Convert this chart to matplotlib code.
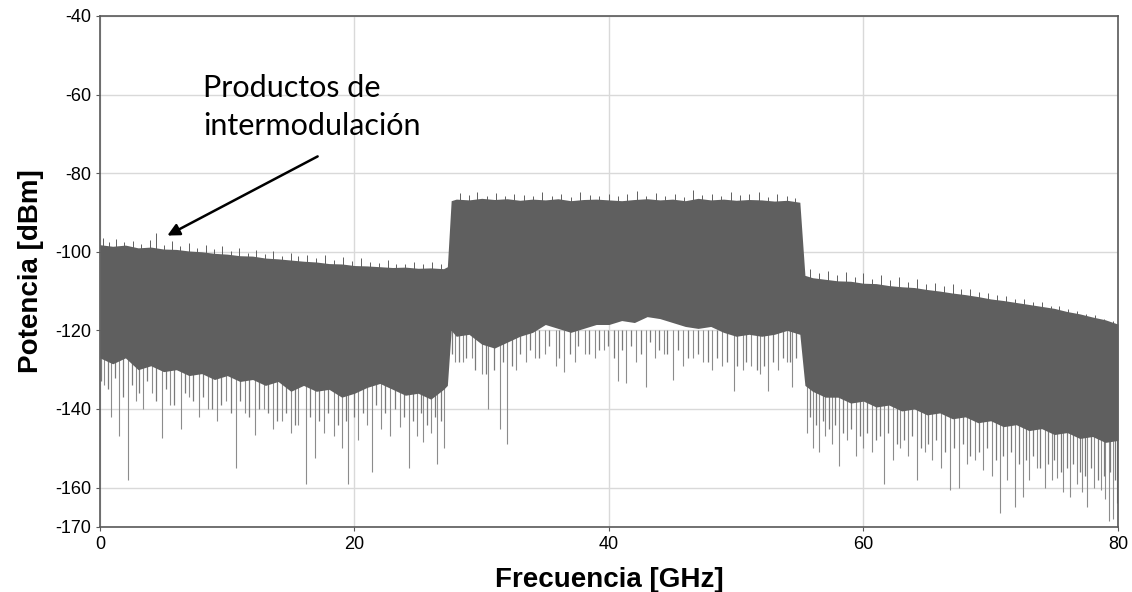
import numpy as np
import matplotlib.pyplot as plt

plt.rcParams['axes.unicode_minus'] = False

# envelope of the spectrum (GHz, dBm)
freq = [0, 1, 2, 3, 4, 5, 6, 7, 8, 9, 10, 11, 12, 13, 14, 15, 16, 17, 18, 19, 20,
        21, 22, 23, 24, 25, 26, 27, 27.3,
        27.6, 28, 29, 30, 31, 32, 33, 34, 35, 36, 37, 38, 39, 40, 41, 42, 43, 44,
        45, 46, 47, 48, 49, 50, 51, 52, 53, 54, 55,
        55.4, 56, 57, 58, 59, 60, 61, 62, 63, 64, 65, 66, 67, 68, 69, 70, 71, 72,
        73, 74, 75, 76, 77, 78, 79, 80]
top = [-98.2, -98.6, -98.3, -99, -98.8, -99.3, -99.4, -99.8, -100, -100.4, -100.6,
       -101, -101.1, -101.6, -101.8, -102.1, -102.4, -102.6, -103, -103.1, -103.5,
       -103.6, -103.8, -104, -103.9, -104.2, -104.1, -104.3, -103.8,
       -87, -86.6, -86.8, -86.4, -86.7, -86.5, -86.9, -86.6, -86.8, -86.5, -87,
       -86.7, -86.6, -86.8, -87, -86.7, -86.5, -86.8, -86.6, -87, -86.4, -86.8,
       -86.6, -86.9, -86.7, -86.8, -87.1, -86.9, -87.4,
       -106, -106.6, -107, -107.4, -107.5, -108, -108.1, -108.6, -108.9, -109.1,
       -109.6, -110, -110.5, -110.9, -111.4, -112, -112.4, -112.9, -113.4, -113.9,
       -114.4, -115.2, -115.8, -116.6, -117.3, -118.4]
bottom = [-127, -128.5, -127, -130, -129, -130.5, -130, -131.5, -131, -132.5, -131.5,
          -133, -132.5, -134, -133, -135.5, -134, -135.5, -135, -137, -136, -134.5,
          -133.5, -135, -136.5, -136, -137.5, -135, -134,
          -120, -121.5, -121, -123.5, -124.5, -123, -121.5, -120.5, -118.5, -119.5,
          -120.5, -119.5, -118.5, -118.5, -117.5, -118, -116.5, -117, -118, -119,
          -119.5, -119, -120.5, -121.5, -121, -121.5, -121, -120, -121,
          -134, -135.5, -137, -137, -138.5, -138, -139.5, -139, -140.5, -140, -141.5,
          -141, -142.5, -142, -143.5, -143, -144.5, -144, -145.5, -145, -146.5, -146,
          -147.5, -147, -148.5, -148]

# fine hairs sticking out of the top edge
hair_f = [0.2, 0.7, 1.3, 1.9, 2.6, 3.2, 3.9, 4.4, 5.0, 5.7, 6.3, 7.0, 7.6, 8.3, 9.0,
          9.6, 10.3, 10.9, 11.6, 12.3, 13.0, 13.6, 14.3, 15.0, 15.6, 16.3, 17.0,
          17.7, 18.4, 19.1, 19.8, 20.5, 21.2, 21.9, 22.6, 23.3, 24.0, 24.7, 25.4,
          26.1, 26.8,
          28.3, 29.0, 29.6, 30.4, 31.1, 31.8, 32.5, 33.3, 34.0, 34.7, 35.5, 36.2,
          37.0, 37.7, 38.5, 39.2, 40.0, 40.7, 41.4, 42.2, 42.9, 43.7, 44.4, 45.2,
          45.9, 46.6, 47.3, 48.1, 48.8, 49.6, 50.3, 51.0, 51.8, 52.5, 53.2, 54.0,
          54.6,
          55.8, 56.5, 57.2, 57.9, 58.6, 59.3, 60.0, 60.7, 61.4, 62.1, 62.8, 63.5,
          64.2, 64.9, 65.6, 66.3, 67.0, 67.7, 68.4, 69.1, 69.8, 70.5, 71.2, 71.9,
          72.6, 73.3, 74.0, 74.7, 75.4, 76.1, 76.8, 77.5, 78.2, 78.9, 79.6]
hair_v = [-96.5, -97.4, -96.8, -97.6, -97.2, -98, -97, -95.2, -98.2, -97.2, -98.6,
          -97.8, -99, -98.2, -99.4, -98.5, -99.8, -99, -100.3, -99.6, -100.6, -99.8,
          -101, -100.3, -101.2, -100.7, -101.7, -100.8, -102, -101.4, -102.4,
          -101.6, -102.5, -102.8, -102.1, -103, -103.1, -102.5, -103.2, -102.7, -103,
          -85, -85.6, -84.8, -85.8, -85, -85.9, -85.2, -85.6, -85.9, -84.7, -85.7,
          -85.2, -86, -84.9, -85.6, -85.9, -85.2, -85.8, -85.4, -84.6, -85.8, -85.1,
          -85.7, -85.3, -86, -84.2, -85.6, -85.2, -85.9, -84.8, -85.6, -85.3,
          -84.9, -86, -85.3, -85.8, -86.2,
          -104.5, -105.4, -104.8, -106, -105.2, -106.4, -105.5, -106.8, -106, -107.2,
          -106.5, -107.6, -107, -108.2, -108, -108.8, -108.2, -109.4, -109.5, -110.2,
          -110.5, -110.9, -111.2, -111.9, -112, -112.9, -112.8, -113.9, -113.8,
          -114.6, -115, -115.8, -116.2, -117.1, -117.5]

# short grass below the dense part
grass_f = [0.1, 0.6, 1.2, 1.8, 2.5, 3.1, 3.7, 4.4, 5.2, 5.8, 6.7, 7.3, 8.1, 8.8,
           9.5, 10.3, 11.0, 11.7, 12.5, 13.2, 13.9, 14.6, 15.3, 16.5, 17.2, 17.9,
           18.7, 19.3, 20.0, 20.7, 21.7, 22.4, 23.2, 23.9, 24.6, 25.2, 25.7, 26.3,
           26.8,
           27.7, 28.2, 28.8, 29.5, 30.3, 31.0, 31.7, 32.4, 33.0, 33.8, 34.5, 35.3,
           36.1, 36.9, 37.6, 38.4, 39.2, 39.9, 40.4, 41.0, 41.7, 42.5, 43.2, 43.9,
           44.6, 45.4, 46.2, 47.0, 47.8, 48.5, 49.3, 50.1, 50.8, 51.6, 52.2, 52.9,
           53.7, 54.2, 54.7,
           55.8, 56.3, 56.8, 57.3, 57.8, 58.4, 59.0, 59.7, 60.3, 61.0, 61.3, 61.9,
           62.6, 63.2, 63.8, 64.5, 65.1, 65.7, 66.4, 67.1, 67.8, 68.4, 69.1, 69.7,
           70.4, 71.0, 71.6, 72.2, 72.8, 73.3, 73.9, 74.5, 75.0, 75.5, 76.0, 76.5,
           77.0, 77.4, 77.9, 78.4, 78.9, 79.4, 79.8]
grass_v = [-133, -135, -132, -137, -134, -136, -133, -138, -135, -139, -136, -138,
           -137, -140, -139, -141, -138, -142, -140, -141, -143, -141, -144, -142,
           -143, -141, -144, -143, -142, -141, -139, -141, -140, -142, -143, -141,
           -144, -142, -143,
           -126, -128, -127, -130, -131, -130, -128, -129, -126, -125, -127, -124,
           -127, -126, -124, -126, -125, -124, -127, -125, -124, -126, -123, -125,
           -126, -125, -127, -126, -128, -127, -128, -129, -128, -130, -129, -128,
           -127, -128, -127,
           -142, -144, -143, -145, -144, -146, -145, -147, -146, -148, -147, -146,
           -149, -148, -147, -150, -149, -148, -151, -150, -149, -152, -151, -150,
           -153, -152, -151, -154, -153, -152, -155, -154, -153, -156, -155, -154,
           -156, -157, -155, -158, -157, -156, -158]

# deep dips below the dense part
dip_f = [0.3, 0.9, 1.5, 2.2, 2.8, 3.4, 4.1, 4.9, 5.5, 6.4, 7.0, 7.8, 8.5, 9.2, 9.9,
         10.7, 11.4, 12.2, 12.9, 13.6, 14.3, 15.0, 15.6, 16.2, 16.9, 17.6, 18.4,
         19.0, 19.5, 20.3, 21.0, 21.4, 22.1, 22.8, 23.6, 24.3, 24.9, 25.4, 26.0,
         26.5, 27.0,
         27.9, 28.5, 29.2, 30.0, 30.5, 31.4, 32.0, 32.7, 33.5, 34.2, 35.0, 35.8,
         36.5, 37.3, 38.1, 38.9, 39.6, 40.7, 41.3, 42.1, 42.9, 43.6, 44.3, 45.0,
         45.8, 46.6, 47.4, 48.1, 48.9, 49.8, 50.5, 51.2, 51.9, 52.5, 53.3, 54.0,
         54.4,
         55.6, 56.0, 56.5, 57.0, 57.5, 58.1, 58.7, 59.4, 60.0, 60.7, 61.6, 62.3,
         62.9, 63.5, 64.2, 64.8, 65.4, 66.1, 66.8, 67.5, 68.1, 68.8, 69.4, 70.1,
         70.7, 71.3, 71.9, 72.5, 73.0, 73.6, 74.3, 74.8, 75.2, 75.7, 76.2, 76.8,
         77.2, 77.6, 78.1, 78.7, 79.0, 79.3, 79.6, 79.9]
dip_v = [-134, -142, -147, -158, -138, -140, -136, -147.5, -139, -145, -137, -142,
         -140, -143, -138, -155, -141, -146.5, -140, -145, -143, -146, -144, -159,
         -152.5, -146, -147, -150, -159, -148, -144, -156, -145, -147, -144.5, -155,
         -147, -148.5, -146, -154, -150,
         -128, -128, -127, -131, -140, -145, -149, -130, -128, -127, -126, -129,
         -130.5, -128, -126, -127, -125, -133, -133.5, -128, -134.5, -127, -126,
         -132.5, -129, -127, -128, -130, -129, -135.5, -130, -129, -131, -135.5,
         -130, -128, -134.5,
         -146, -150, -151, -147, -149, -154.5, -148, -152, -150, -151, -159, -153,
         -150, -152, -158, -151, -153, -155, -160.5, -160, -154, -153, -155.5,
         -157, -166.5, -158, -165, -162.5, -158, -155, -160, -158, -157.5, -161,
         -162.5, -159, -161, -165, -160, -160.5, -163, -168.5, -168, -164]

dark = '#5f5f5f'

fig = plt.figure(figsize=(11.32, 5.92), dpi=100)
ax = fig.add_axes([0.0883, 0.110, 0.8993, 0.863])

ax.vlines(dip_f, dip_v, -120, color='#8c8c8c', linewidth=0.8, zorder=2)
ax.vlines(grass_f, grass_v, -120, color='#7a7a7a', linewidth=0.9, zorder=2)
ax.vlines(hair_f, hair_v, np.array(hair_v) - 6, color=dark, linewidth=0.7, zorder=2)
ax.fill_between(freq, bottom, top, color=dark, linewidth=0, zorder=3)

ax.set_xlim(0, 80)
ax.set_ylim(-170, -40)
ax.set_xticks([0, 20, 40, 60, 80])
ax.set_yticks([-40, -60, -80, -100, -120, -140, -160, -170])
ax.grid(True, color='#d9d9d9', linewidth=1.0, zorder=0)
ax.set_axisbelow(True)
for s in ax.spines.values():
    s.set_color('#595959')
    s.set_linewidth(1.2)
ax.tick_params(labelsize=13, length=3, color='#595959')
for lab in ax.get_xticklabels() + ax.get_yticklabels():
    lab.set_family('Liberation Sans')

ax.set_xlabel('Frecuencia [GHz]', fontsize=20, fontweight='bold',
              family='Liberation Sans', labelpad=10)
ax.set_ylabel('Potencia [dBm]', fontsize=20, fontweight='bold',
              family='Liberation Sans', labelpad=8)

ax.text(8.1, -54.8, 'Productos de\nintermodulación', fontsize=22, family='Lato',
        va='top', ha='left', linespacing=1.42)
ax.annotate('', xy=(5.1, -96.2), xytext=(17.3, -75.4),
            arrowprops=dict(arrowstyle='-|>', color='black', lw=1.8,
                            mutation_scale=18))

fig.savefig('out.png', dpi=100)
